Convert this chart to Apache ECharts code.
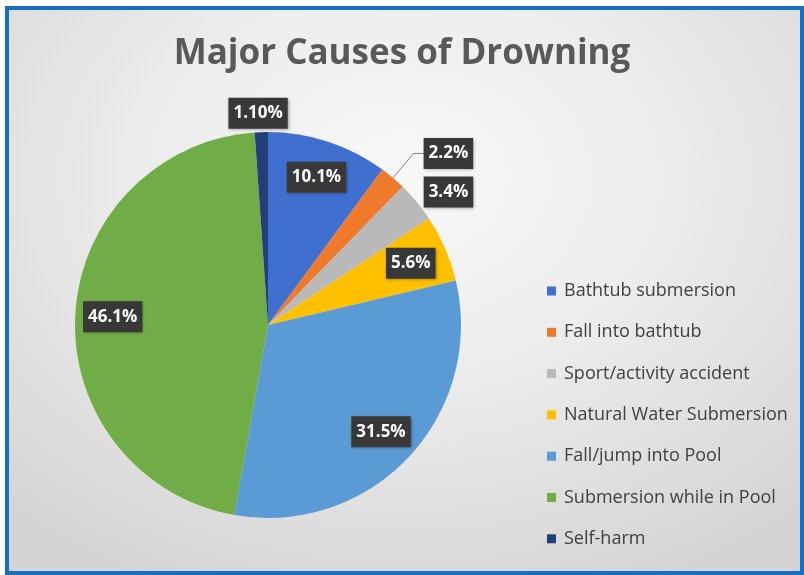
<!DOCTYPE html>
<html>
<head>
<meta charset="utf-8">
<script src="https://cdn.jsdelivr.net/npm/echarts@6/dist/echarts.min.js"></script>
<style>
  html, body { margin: 0; padding: 0; background: #ffffff; }
  #frame {
    position: absolute; left: 5px; top: 6px; width: 799px; height: 569px;
    box-sizing: border-box; border: 4px solid #1670c2;
    background: radial-gradient(ellipse 75% 80% at 50% 30%, #f8f8f8 0%, #ececec 45%, #d4d4d4 100%);
  }
  #chart { position: absolute; left: 0; top: 0; width: 804px; height: 575px; }
</style>
</head>
<body>
<div id="frame"></div>
<div id="chart"></div>
<script>
// ---- data ----
var titleText = 'Major Causes of Drowning';
var categories = ['Bathtub submersion', 'Fall into bathtub', 'Sport/activity accident',
  'Natural Water Submersion', 'Fall/jump into Pool', 'Submersion while in Pool', 'Self-harm'];
var values = [10.1, 2.2, 3.4, 5.6, 31.5, 46.1, 1.1];
var valueLabels = ['10.1%', '2.2%', '3.4%', '5.6%', '31.5%', '46.1%', '1.10%'];
var colors = ['#3f6fcf', '#f07a2c', '#b9b9b9', '#ffc000', '#5b9bd5', '#70ad47', '#213f78'];

// which label goes where (by index)
var insideIdx = [0, 3, 4, 5];
var outerIdx = [2, 6];
var leaderIdx = [1];

// ---- styles ----
var CX = 268, CY = 325, R = 193;
var boxStyle = {
  color: '#ffffff', fontFamily: 'Open Sans', fontWeight: 'bold', fontSize: 17,
  lineHeight: 19, backgroundColor: '#383838', padding: [6, 5],
  shadowColor: 'rgba(0,0,0,0.35)', shadowBlur: 3, shadowOffsetX: 1, shadowOffsetY: 1
};
function lbl(extra) {
  var o = {}; var k;
  for (k in boxStyle) o[k] = boxStyle[k];
  for (k in extra) o[k] = extra[k];
  return o;
}
var outerOffsets = { 2: [4, 13], 6: [-2, 17] };

function mainData() {
  return categories.map(function (c, i) {
    var d = { name: c, value: values[i], itemStyle: { color: colors[i] } };
    if (leaderIdx.indexOf(i) >= 0) {
      d.label = lbl({ show: true, position: 'outside', formatter: valueLabels[i], distanceToLabelLine: 0, alignTo: 'none' });
      d.labelLine = { show: true, length: 32, length2: 10, lineStyle: { color: '#808080', width: 1 } };
    } else {
      d.label = { show: false };
      d.labelLine = { show: false };
    }
    return d;
  });
}
function overlayData(idxList, useOffsets) {
  return categories.map(function (c, i) {
    var d = { name: c, value: values[i], itemStyle: { color: 'rgba(0,0,0,0)' } };
    if (idxList.indexOf(i) >= 0) {
      var ex = { show: true, position: 'inside', formatter: valueLabels[i] };
      if (useOffsets && outerOffsets[i]) ex.offset = outerOffsets[i];
      d.label = lbl(ex);
    } else {
      d.label = { show: false };
    }
    return d;
  });
}

var chart = echarts.init(document.getElementById('chart'), null, { renderer: 'canvas' });
chart.setOption({
  backgroundColor: 'transparent',
  animation: false,
  title: {
    text: titleText, left: 'center', top: 32,
    textStyle: { fontFamily: 'Open Sans', fontWeight: 'bold', fontSize: 35, color: '#595959' }
  },
  legend: {
    orient: 'vertical', left: 542, top: 276,
    itemWidth: 9, itemHeight: 9, itemGap: 21.3, icon: 'rect',
    data: categories,
    textStyle: { fontFamily: 'Open Sans', fontSize: 18, color: '#404040', lineHeight: 20, padding: [0, 0, 0, 3] }
  },
  series: [
    {
      type: 'pie', center: [CX, CY], radius: R, startAngle: 90, clockwise: true,
      avoidLabelOverlap: false, data: mainData(),
      itemStyle: { borderWidth: 0 },
      emphasis: { disabled: true }
    },
    {
      type: 'pie', center: [CX, CY], radius: [112, R], startAngle: 90, clockwise: true,
      avoidLabelOverlap: false, silent: true, data: overlayData(insideIdx, false),
      emphasis: { disabled: true }, labelLine: { show: false }
    },
    {
      type: 'pie', center: [CX, CY], radius: [R, 259], startAngle: 90, clockwise: true,
      avoidLabelOverlap: false, silent: true, data: overlayData(outerIdx, true),
      emphasis: { disabled: true }, labelLine: { show: false }
    }
  ]
});
</script>
</body>
</html>
